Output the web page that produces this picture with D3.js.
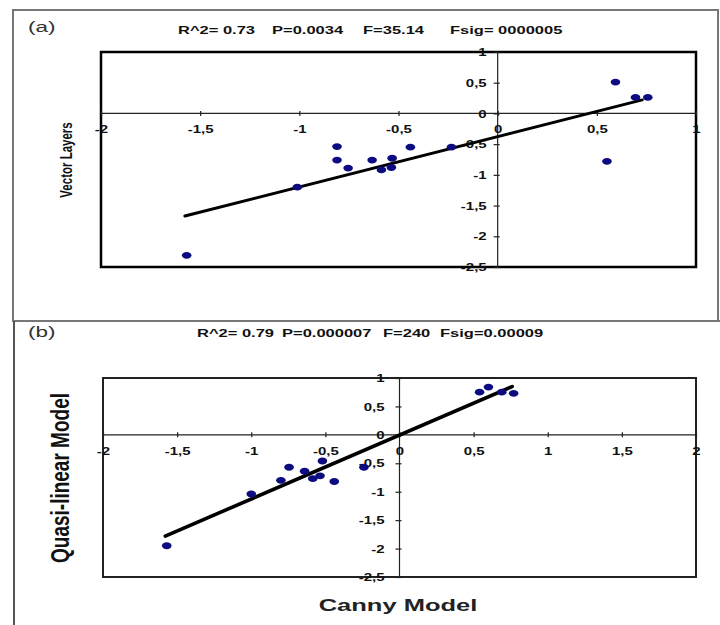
<!DOCTYPE html>
<html>
<head>
<meta charset="utf-8">
<script src="https://cdn.jsdelivr.net/npm/d3@7"></script>
<style>
  body { margin: 0; background: #fff; }
  svg { display: block; font-family: "Liberation Sans", Arial, sans-serif; }
</style>
</head>
<body>
<svg id="chart" width="720" height="625"></svg>
<script>
// ---------- data ----------
const xTicksA = [-2, -1.5, -1, -0.5, 0, 0.5, 1];
const xTicksB = [-2, -1.5, -1, -0.5, 0, 0.5, 1, 1.5, 2];
const yTicks  = [1, 0.5, 0, -0.5, -1, -1.5, -2, -2.5];

// panel (a): Canny vs Vector Layers
const canA  = [-1.568, -1.01, -0.81, -0.81, -0.754, -0.633, -0.586, -0.536, -0.532, -0.44, -0.233, 0.551, 0.594, 0.695, 0.757];
const vecA  = [-2.31, -1.20, -0.54, -0.76, -0.89, -0.76, -0.92, -0.88, -0.73, -0.55, -0.55, -0.78, 0.51, 0.26, 0.26];
const trendAx = [-1.577, 0.729];
const trendAy = [-1.67, 0.22];

// panel (b): Canny vs Quasi-linear
const canB  = [-1.57, -1.0, -0.80, -0.745, -0.64, -0.585, -0.536, -0.52, -0.44, -0.24, 0.54, 0.60, 0.69, 0.77];
const quaB  = [-1.95, -1.04, -0.80, -0.57, -0.64, -0.77, -0.72, -0.46, -0.82, -0.57, 0.75, 0.84, 0.75, 0.73];
const trendBx = [-1.58, 0.76];
const trendBy = [-1.78, 0.85];

const statsA = ["R^2= 0.73", "P=0.0034", "F=35.14", "Fsig= 0000005"];
const statsB = ["R^2= 0.79", "P=0.000007", "F=240", "Fsig=0.00009"];

// ---------- drawing ----------
const SX = 1.5; // horizontal stretch of the original picture's text
const svg = d3.select("#chart");
const fmt = d => String(d).replace(".", ",");

// outer frames
svg.append("rect").attr("x", 13).attr("y", 10).attr("width", 705).attr("height", 311)
  .attr("fill", "none").attr("stroke", "#777").attr("stroke-width", 2);
svg.append("line").attr("x1", 14).attr("x2", 720).attr("y1", 321).attr("y2", 321)
  .attr("stroke", "#777").attr("stroke-width", 2);
svg.append("line").attr("x1", 14).attr("x2", 14).attr("y1", 321).attr("y2", 625)
  .attr("stroke", "#555").attr("stroke-width", 2);

function stext(x, y, str, size, weight, color) {
  return svg.append("text")
    .attr("transform", `translate(${x},${y}) scale(${SX},1)`)
    .attr("font-size", size).attr("font-weight", weight).attr("fill", color)
    .text(str);
}

function panel(cfg) {
  const x = d3.scaleLinear().domain(cfg.xDomain).range([cfg.left, cfg.right]);
  const y = d3.scaleLinear().domain([-2.5, 1]).range([cfg.bottom, cfg.top]);
  const g = svg.append("g");

  // plot border
  g.append("rect").attr("x", cfg.left).attr("y", cfg.top)
    .attr("width", cfg.right - cfg.left).attr("height", cfg.bottom - cfg.top)
    .attr("fill", "none").attr("stroke", cfg.borderColor).attr("stroke-width", cfg.borderWidth);

  // zero lines
  g.append("line").attr("x1", cfg.left).attr("x2", cfg.right).attr("y1", y(0)).attr("y2", y(0))
    .attr("stroke", "#222").attr("stroke-width", 1.2);
  g.append("line").attr("x1", x(0)).attr("x2", x(0)).attr("y1", cfg.top).attr("y2", cfg.bottom)
    .attr("stroke", "#222").attr("stroke-width", 1.2);

  // x axis (ticks + labels along y=0)
  const xa = g.append("g").attr("transform", `translate(0,${y(0)})`)
    .call(d3.axisBottom(x).tickValues(cfg.xTicks).tickFormat(fmt).tickSize(3));
  xa.select(".domain").remove();
  xa.selectAll(".tick line").attr("y1", -2.5).attr("y2", 2.5).attr("stroke", "#222").attr("stroke-width", 1.2);
  xa.selectAll(".tick text").attr("y", 20).attr("dy", 0)
    .attr("transform", `scale(${SX},1)`)
    .attr("font-size", 10).attr("font-weight", "bold").attr("fill", "#111")
    .attr("font-family", "Liberation Sans, Arial, sans-serif");

  // y axis (ticks + labels along x=0)
  const ya = g.append("g").attr("transform", `translate(${x(0)},0)`)
    .call(d3.axisLeft(y).tickValues(yTicks).tickFormat(fmt).tickSize(3));
  ya.select(".domain").remove();
  ya.selectAll(".tick line").attr("x1", -4).attr("x2", 2).attr("stroke", "#222").attr("stroke-width", 1.2);
  ya.selectAll(".tick text").attr("x", -cfg.yLabelGap / SX).attr("dy", "0.36em")
    .attr("transform", `scale(${SX},1)`)
    .attr("font-size", 10).attr("font-weight", "bold").attr("fill", "#111")
    .attr("font-family", "Liberation Sans, Arial, sans-serif");

  // trend line
  g.append("line")
    .attr("x1", x(cfg.tx[0])).attr("y1", y(cfg.ty[0]))
    .attr("x2", x(cfg.tx[1])).attr("y2", y(cfg.ty[1]))
    .attr("stroke", "#000").attr("stroke-width", cfg.trendWidth).attr("stroke-linecap", "round");

  // points
  g.selectAll("ellipse.pt").data(cfg.xs.map((v, i) => [v, cfg.ys[i]])).join("ellipse")
    .attr("class", "pt")
    .attr("cx", d => x(d[0])).attr("cy", d => y(d[1]))
    .attr("rx", 4.8).attr("ry", 3.4)
    .attr("fill", "#0c0c80");
}

panel({
  left: 101, right: 696, top: 52, bottom: 267,
  xDomain: [-2, 1], xTicks: xTicksA, yLabelGap: 11,
  xs: canA, ys: vecA, tx: trendAx, ty: trendAy,
  borderColor: "#000", borderWidth: 2.5, trendWidth: 3
});

panel({
  left: 103, right: 696, top: 378, bottom: 577,
  xDomain: [-2, 2], xTicks: xTicksB, yLabelGap: 15,
  xs: canB, ys: quaB, tx: trendBx, ty: trendBy,
  borderColor: "#222", borderWidth: 2, trendWidth: 3.6
});

// titles & stats
stext(28, 32, "(a)", 15, "normal", "#333");
stext(28, 337, "(b)", 15, "normal", "#333");

const statsAx = [178, 272, 363, 450];
statsA.forEach((s, i) => stext(statsAx[i], 34, s, 11, "bold", "#111"));
const statsBx = [197, 282, 383, 440];
statsB.forEach((s, i) => stext(statsBx[i], 337, s, 11, "bold", "#111"));

// axis titles
svg.append("text")
  .attr("transform", `translate(71.5,160) scale(${SX},1) rotate(-90)`)
  .attr("text-anchor", "middle").attr("font-size", 11.5).attr("font-weight", "bold").attr("fill", "#111")
  .text("Vector Layers");

svg.append("text")
  .attr("transform", `translate(69,478) scale(${SX},1) rotate(-90)`)
  .attr("text-anchor", "middle").attr("font-size", 17).attr("font-weight", "bold").attr("fill", "#111")
  .attr("textLength", 170).attr("lengthAdjust", "spacingAndGlyphs")
  .text("Quasi-linear Model");

svg.append("text")
  .attr("transform", `translate(398,611) scale(${SX},1)`)
  .attr("text-anchor", "middle").attr("font-size", 17).attr("font-weight", "bold").attr("fill", "#222")
  .text("Canny Model");
</script>
</body>
</html>
